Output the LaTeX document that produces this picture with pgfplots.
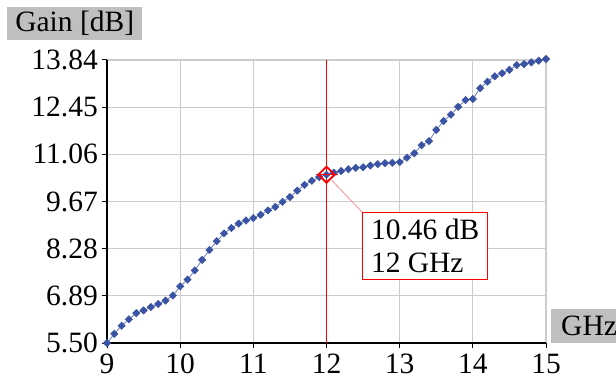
\documentclass[border=0pt]{standalone}
\usepackage{pgfplots}
\pgfplotsset{compat=1.18}
\usepackage{fontspec}
\setmainfont{Liberation Serif}
\definecolor{ser}{RGB}{58,83,164}
\definecolor{boxgray}{RGB}{191,191,191}
\newcommand\bigf{\fontsize{29.5bp}{33bp}\selectfont}
\begin{document}
\begin{tikzpicture}
\path[use as bounding box] (0,0) rectangle (616bp,-381bp);
\node[fill=boxgray, anchor=north west, minimum width=135bp, minimum height=33bp, inner sep=0pt, font=\bigf] at (7bp,-7bp) {Gain [dB]};
\node[fill=boxgray, anchor=west, minimum height=34bp, inner xsep=10bp, inner ysep=0pt, font=\bigf] at (551bp,-326bp) {GHz};
\begin{axis}[at={(107bp,-343bp)}, anchor=south west, scale only axis,
  width=439bp, height=283bp,
  xmin=9, xmax=15, ymin=5.5, ymax=13.84,
  xtick={9,10,11,12,13,14,15},
  ytick={5.50,6.89,8.28,9.67,11.06,12.45,13.84},
  yticklabels={5.50,6.89,8.28,9.67,11.06,12.45,13.84},
  grid=major, grid style={line width=1.2bp, color=gray!40},
  axis x line*=bottom, axis y line*=left,
  axis line style={line width=1.2bp, black},
  tick align=outside, major tick length=5bp,
  tick style={line width=1bp, black},
  tick label style={font=\bigf},
  /pgf/number format/assume math mode=true,
  clip=false,
  xticklabel style={inner sep=0pt, yshift=-6bp},
  yticklabel style={inner sep=0pt, xshift=-4bp},
]
\addplot[red, line width=1.3bp, forget plot] coordinates {(12,5.5) (12,13.84)};
\addplot[ser!75, line width=0.8bp, mark=square*, mark size=2.6bp, mark options={ser, fill=ser, line width=0.5bp, rotate=45}] coordinates {
(9.0,5.50) (9.1,5.77) (9.2,6.01) (9.3,6.20) (9.4,6.38) (9.5,6.46) (9.6,6.56) (9.7,6.65) (9.8,6.75) (9.9,6.90)
(10.0,7.17) (10.1,7.37) (10.2,7.64) (10.3,7.95) (10.4,8.24) (10.5,8.50) (10.6,8.73) (10.7,8.89) (10.8,9.02) (10.9,9.11)
(11.0,9.18) (11.1,9.28) (11.2,9.41) (11.3,9.51) (11.4,9.66) (11.5,9.80) (11.6,9.99) (11.7,10.16) (11.8,10.28) (11.9,10.39)
(12.0,10.46) (12.1,10.52) (12.2,10.57) (12.3,10.62) (12.4,10.66) (12.5,10.68) (12.6,10.73) (12.7,10.77) (12.8,10.80) (12.9,10.81)
(13.0,10.83) (13.1,10.96) (13.2,11.09) (13.3,11.33) (13.4,11.45) (13.5,11.78) (13.6,12.04) (13.7,12.23) (13.8,12.46) (13.9,12.66)
(14.0,12.69) (14.1,13.01) (14.2,13.20) (14.3,13.36) (14.4,13.45) (14.5,13.55) (14.6,13.69) (14.7,13.72) (14.8,13.77) (14.9,13.82)
(15.0,13.87)
};
\addplot[only marks, mark=-, mark size=11bp, mark options={red, line width=1.5bp}] coordinates {(12,10.46)};
\addplot[only marks, mark=square, mark size=5.7bp, mark options={red, line width=1.8bp, rotate=45}] coordinates {(12,10.46)};
\coordinate (P) at (axis cs:12,10.46);
\end{axis}
\draw[red!45, line width=0.8bp, shorten <=8bp] (P) -- (362bp,-212bp);
\node[draw=red, line width=1bp, fill=white, anchor=north west, inner xsep=8.5bp, inner ysep=0pt, minimum height=67bp, align=left, font=\bigf] at (362bp,-212bp) {10.46 dB\\12 GHz};
\end{tikzpicture}
\end{document}
